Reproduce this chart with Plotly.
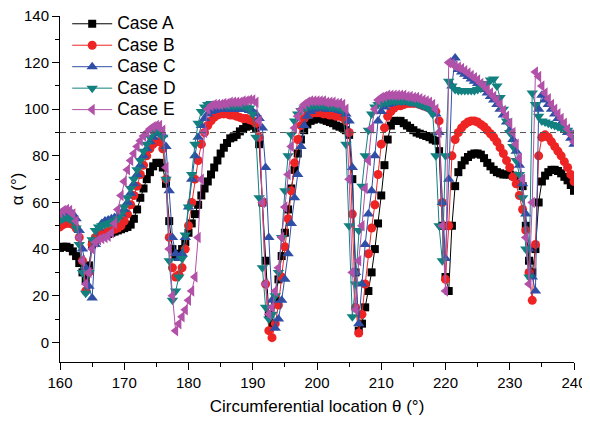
import numpy as np
import plotly.graph_objects as go

# circumferential sampling grid (deg), 0.5 deg step
theta = np.arange(160, 240.5, 0.5)

case_a = [
    40.5, 41, 41, 40.5, 39, 37, 34, 30,
    27, 33, 42, 44, 45, 45.5, 46, 46.5, 47, 47.5,
    48, 48.5, 49, 49.5, 50.5, 53, 57, 62, 66, 70,
    73, 75.5, 77, 77, 75, 68, 52, 40, 37, 38,
    40, 43, 47, 51, 55, 59, 63, 66, 69, 72,
    75, 78, 81, 83.5, 85.5, 87.5,
    88, 89, 90.5, 91.5, 92.5,
    93, 93, 92, 85, 60, 35, 12, 8, 18, 27,
    37, 47, 57, 66, 74, 81, 87, 91, 93.5, 95,
    95.5, 96, 96, 95.5, 95, 94.5, 94, 93, 92.5, 92,
    91, 89, 70, 30, 5, 8, 15, 22, 30, 40,
    51, 63, 76, 87, 93, 95, 95,
    95, 94, 93, 92,
    91, 90, 89.5, 89, 88.5, 88, 87, 86.5, 82, 50,
    28, 22, 50, 67, 73, 76, 78, 79.5, 80.5, 81,
    81, 80.5, 79, 77, 75.5, 74, 73, 72.5, 72, 72,
    72, 71.5, 71, 70, 67, 50, 35, 30, 40, 60,
    69, 71.5, 73, 74, 74, 73.5, 72.5, 71, 69.5, 67.5,
    65,
]

case_b = [
    49.5, 50.5, 51, 51, 50.5, 49, 45, 35,
    22, 30, 42, 45, 46, 46.5, 47, 47.5, 48, 48.5,
    49, 50, 52, 55, 59, 63, 67, 72, 76, 80,
    83, 85, 86, 86, 83, 70, 45, 32, 28, 29,
    32, 40, 50, 60, 70, 78, 85, 90, 93, 95,
    96.5, 97.5, 98, 98, 98, 97.5,
    97.5, 97, 96.5, 96, 96,
    95.5, 95, 94, 88, 60, 25, 5, 2, 8, 16,
    28, 41, 53, 65, 77, 87, 93, 96, 97.5, 98,
    98.5, 98.5, 98.5, 98, 98, 97.5, 97.5, 97, 97, 96.5,
    95, 90, 55, 15, 4, 12, 25, 38, 49, 59,
    72, 85, 92, 97, 99, 100.5, 101.5,
    101.5, 102, 102.5, 102.5,
    102.5, 102.5, 102, 101.5, 101, 100.5, 100, 99, 95, 60,
    27, 50, 80, 87, 90, 92, 93.5, 94.5, 95, 95,
    94.5, 93.5, 92.5, 91, 89.5, 88, 86, 83.5, 81, 78,
    75, 71, 68, 63, 57, 48, 30, 18, 42, 80,
    88, 89, 88, 86, 84, 82, 80, 77.5, 75, 72,
    69,
]

case_c = [
    53, 54, 55, 55.5, 55, 53, 48, 40,
    32, 24, 19, 42, 49, 51, 52, 52.5, 53, 53.5,
    54, 55, 57, 60, 64, 68, 72, 76, 80, 83,
    86, 88, 89.5, 90, 89, 84, 65, 45, 38, 36,
    38, 45, 58, 70, 80, 88, 93, 96, 98, 99,
    99.5, 100, 100, 100, 100, 100,
    100, 100, 100, 100, 100,
    99.5, 99, 98, 96, 92, 75, 45, 18, 6, 10,
    18, 27, 38, 51, 62, 72, 84, 93, 97, 99,
    100, 100.5, 100.5, 100.5, 100, 100, 100, 100, 99.5, 99,
    98, 95, 75, 30, 8, 25, 42, 55, 65, 80,
    95, 99, 101, 102, 102.5, 103, 103,
    103, 103, 103, 103,
    102.5, 102.5, 102, 101.5, 101, 100.5, 100, 98, 90, 60,
    36, 70, 110, 122, 117, 116, 115, 114, 113, 112,
    111, 110, 108.5, 107, 105.5, 104, 102, 100, 97.5, 94.5,
    91, 87, 82, 76, 68, 55, 40, 28, 22, 100,
    106, 104, 102, 100, 98, 96, 94, 92, 90, 87.5,
    85,
]

case_d = [
    52.5, 53, 53.5, 53, 52, 49, 42, 30,
    21, 30, 44, 48, 49.5, 50, 50.5, 51, 51.5, 52,
    53, 55, 58, 62, 66, 70, 74, 78, 82, 85,
    88, 90, 91, 91, 88, 70, 35, 18, 22, 28,
    36, 46, 58, 72, 85, 94, 99, 101, 102, 102.5,
    102.5, 102.5, 102, 102, 101.5, 101.5,
    101.5, 101.5, 101.5, 101.5, 101,
    100.5, 98, 88, 62, 32, 15, 10, 12, 20, 30,
    45, 65, 80, 89, 95, 98, 99.5, 100.5, 101, 101.5,
    101.5, 101.5, 101.5, 101.5, 101.5, 101, 101, 101, 100.5, 100,
    85, 50, 11, 25, 48, 67, 80, 91, 98, 101,
    102, 102.5, 103, 103, 103.5, 103.5, 103.5,
    103.5, 103.5, 103.5, 103,
    103, 102.5, 102, 101.5, 101, 100, 98, 80, 50, 35,
    80, 112, 110, 108.5, 108, 108, 108, 108, 108, 108,
    108.5, 109, 110, 111, 112.5, 113, 110, 105, 100, 95,
    90, 84, 78, 72, 62, 40, 28, 107, 102, 97,
    95, 94.5, 94, 93.5, 93, 92.5, 92, 91.5, 91, 90,
    88,
]

case_e = [
    55.5, 56.5, 57, 56.5, 55, 52, 45, 35,
    25, 30, 40, 43, 44, 44.5, 45, 45.5, 47, 51,
    57, 63, 69, 74, 78, 81, 84, 86.5, 88.5, 90,
    91.5, 92.5, 93, 93, 91, 75, 40, 20, 5, 8,
    11, 14, 18, 22, 28, 45, 70, 90, 100, 101.5,
    102, 102, 102, 102.5, 102.5, 103,
    103, 103, 103, 103.5, 103.5,
    104, 104, 103, 95, 60, 25, 12, 15, 22, 32,
    45, 58, 72, 84, 92, 97, 100, 102, 103, 103.5,
    103.5, 103.5, 103.5, 103.5, 103, 103, 103, 102.5, 102.5, 102,
    100, 70, 30, 14, 35, 50, 66, 78, 92, 100,
    104, 105, 105.5, 106, 106, 106, 106,
    106, 106, 105.5, 105.5,
    105, 105, 104.5, 104, 103.5, 103, 102, 100, 90, 50,
    22, 120, 119.5, 118.5, 118, 117.5, 116.5, 115.5, 114.5, 113.5,
    112.5, 111, 110, 108.5, 107, 105.5, 104, 102, 99.5, 97,
    94, 90, 85, 79, 70, 45, 25, 60, 116, 114,
    110, 107, 104.5, 102, 100, 98, 96, 94, 91.5, 89,
    86,
]

threshold = 90

series = [
    ("Case A", case_a, "#000000", "square", 8),
    ("Case B", case_b, "#ee2424", "circle", 9),
    ("Case C", case_c, "#2e4fa5", "triangle-up", 10),
    ("Case D", case_d, "#138080", "triangle-down", 10),
    ("Case E", case_e, "#b151a8", "triangle-left", 10),
]

FONT = "Arial, Liberation Sans, sans-serif"

fig = go.Figure()
for name, vals, color, symbol, size in series:
    assert len(vals) == len(theta), (name, len(vals))
    fig.add_trace(
        go.Scatter(
            x=theta,
            y=vals,
            mode="lines+markers",
            # bigger label text, legend rows stay tight
            name=f"<span style='font-size:17.5px'>{name}</span>",
            line=dict(color=color, width=1),
            marker=dict(symbol=symbol, size=size, color=color,
                        line=dict(width=0)),
        )
    )

fig.add_hline(y=threshold, line=dict(color="#555555", width=1, dash="6px,4px"))

axis_common = dict(
    showline=True,
    linecolor="black",
    linewidth=1,
    ticks="outside",
    ticklen=7,
    tickcolor="black",
    showgrid=False,
    zeroline=False,
    mirror=False,
    automargin=False,
    ticklabeloverflow="allow",
    tickfont=dict(family=FONT, size=15, color="black"),
)

# page body has an 8px margin, so margins are set against that offset
fig.update_layout(
    width=590,
    height=423,
    margin=dict(l=52, r=24, t=8, b=69, autoexpand=False),
    plot_bgcolor="white",
    paper_bgcolor="white",
    font=dict(family=FONT, color="black"),
    showlegend=True,
    legend=dict(
        x=0.014, y=1.023, xanchor="left", yanchor="top",
        bgcolor="rgba(0,0,0,0)",
        font=dict(family=FONT, size=14.2, color="black"),
        itemwidth=40,
    ),
    xaxis=dict(
        range=[160, 240],
        tick0=160,
        dtick=10,
        minor=dict(dtick=5, ticklen=4, ticks="outside", tickcolor="black"),
        title=dict(text="Circumferential location θ (°)",
                   font=dict(family=FONT, size=17), standoff=10),
        **axis_common,
    ),
    yaxis=dict(
        range=[-8.45, 140],
        tick0=0,
        dtick=20,
        minor=dict(dtick=10, ticklen=4, ticks="outside", tickcolor="black"),
        title=dict(text="α (°)", font=dict(family=FONT, size=17), standoff=14),
        **axis_common,
    ),
)

fig.write_html("out.html")
